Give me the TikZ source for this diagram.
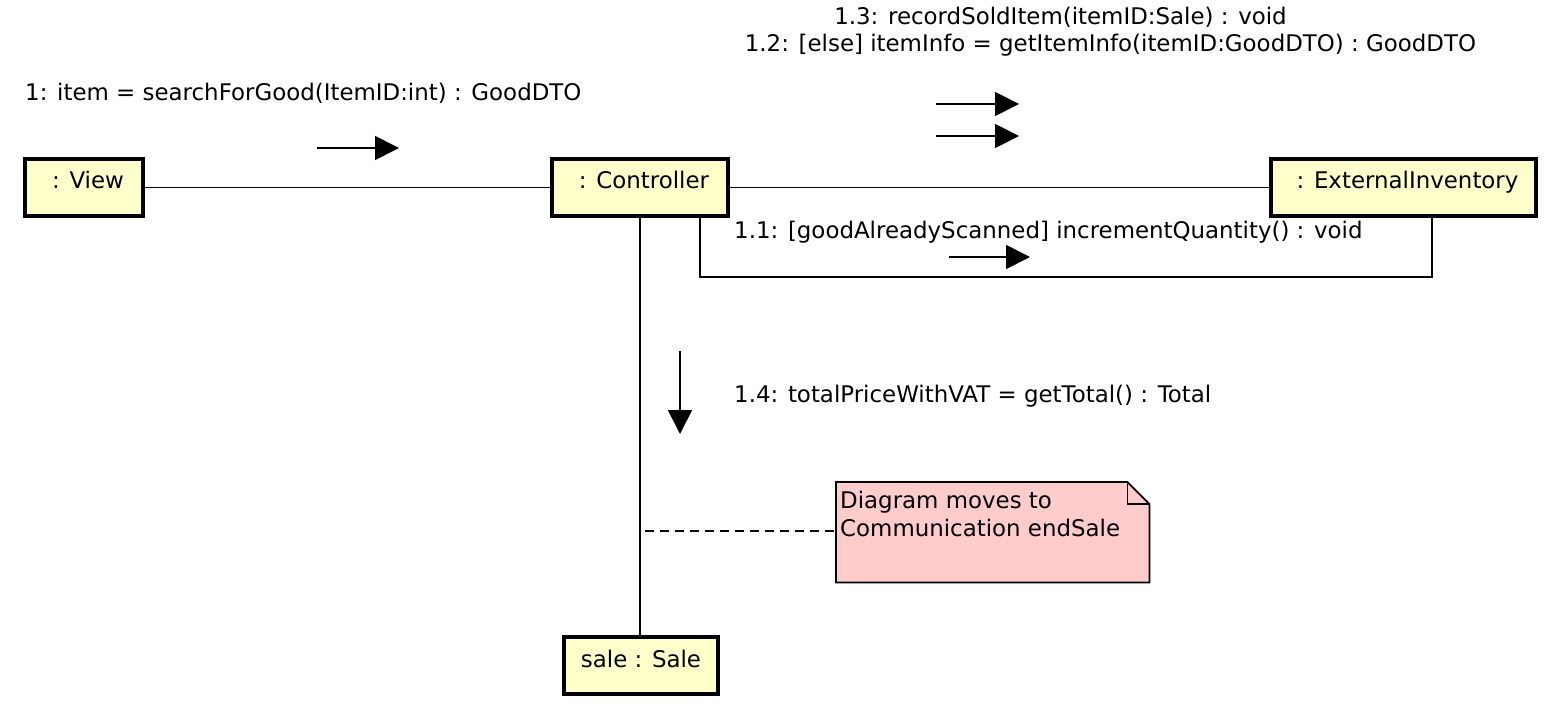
\documentclass[tikz,border=0pt]{standalone}
\usepackage{fontspec}
\setmainfont{DejaVu Sans}
\usetikzlibrary{arrows.meta}
\definecolor{objfill}{HTML}{FFFFCC}
\definecolor{notefill}{HTML}{FFCCCC}
\begin{document}
\begin{tikzpicture}[x=1pt,y=-1pt,
  lbl/.style={font=\fontsize{22.9}{28}\selectfont, inner sep=0pt},
  obj/.style={draw, line width=4pt, fill=objfill, inner sep=0pt,
    minimum height=57pt, text height=13pt, text depth=10pt,
    font=\fontsize{22.9}{28}\selectfont},
  lead/.style={execute at begin node=\hspace*{8pt}},
  conn/.style={line width=1.8pt},
  msg/.style={line width=1.8pt, -{Triangle[length=24pt,width=24pt]}},
  notebox/.style={draw, line width=1.8pt, fill=notefill}
]
\useasboundingbox (0,0) rectangle (1548,706);

% objects
\node[obj, lead, minimum width=118pt] (view) at (84,187.5) {: View};
\node[obj, lead, minimum width=176pt] (ctrl) at (640,187.5) {: Controller};
\node[obj, lead, minimum width=265pt] (ext) at (1403.5,187.5) {: ExternalInventory};
\node[obj, minimum width=154pt] (sale) at (641,665.5) {sale : Sale};

% links
\draw[conn] (view.east) -- (ctrl.west);
\draw[conn] (ctrl.east) -- (ext.west);
\draw[conn] (ctrl.south) -- (ctrl.south |- sale.north);
\coordinate (l1) at (700,277);
\coordinate (l2) at (1432,277);
\draw[conn] (l1 |- ctrl.south) -- (l1) -- (l2) -- (l2 |- ext.south);

% messages
\coordinate (m1s) at (317,148); \coordinate (m1e) at (399,148);
\draw[msg] (m1s) -- (m1e);
\coordinate (m13s) at (936,104); \coordinate (m13e) at (1019,104);
\draw[msg] (m13s) -- (m13e);
\coordinate (m12s) at (936,136); \coordinate (m12e) at (1019,136);
\draw[msg] (m12s) -- (m12e);
\coordinate (m11s) at (949,257); \coordinate (m11e) at (1030,257);
\draw[msg] (m11s) -- (m11e);
\coordinate (m14s) at (680,351); \coordinate (m14e) at (680,434);
\draw[msg] (m14s) -- (m14e);

% labels
\node[lbl, anchor=base west] (t1) at (25,101) {1: item = searchForGood(ItemID:int) : GoodDTO};
\node[lbl, anchor=base] (t13) at (1060.5,25) {1.3: recordSoldItem(itemID:Sale) : void};
\node[lbl, anchor=base] (t12) at (1110.5,52) {1.2: [else] itemInfo = getItemInfo(itemID:GoodDTO) : GoodDTO};
\node[lbl, anchor=base west] (t11) at (734,238) {1.1: [goodAlreadyScanned] incrementQuantity() : void};
\node[lbl, anchor=base west] (t14) at (734,402) {1.4: totalPriceWithVAT = getTotal() : Total};

% note
\node[minimum width=313pt, minimum height=100pt, anchor=north west, inner sep=0pt] (note) at (836,482) {};
\draw[notebox] (note.north west) -- ([xshift=-22pt]note.north east) -- ([yshift=-22pt]note.north east)
  -- (note.south east) -- (note.south west) -- cycle;
\draw[conn] ([xshift=-22pt]note.north east) -- ([xshift=-22pt,yshift=-22pt]note.north east) -- ([yshift=-22pt]note.north east);
\node[lbl, anchor=base west, align=left] (notetext) at (840,536) {Diagram moves to\\Communication endSale};
\coordinate (d1) at (645,531);
\draw[conn, dash pattern=on 9pt off 6pt] (d1) -- (d1 -| note.west);
\end{tikzpicture}
\end{document}
